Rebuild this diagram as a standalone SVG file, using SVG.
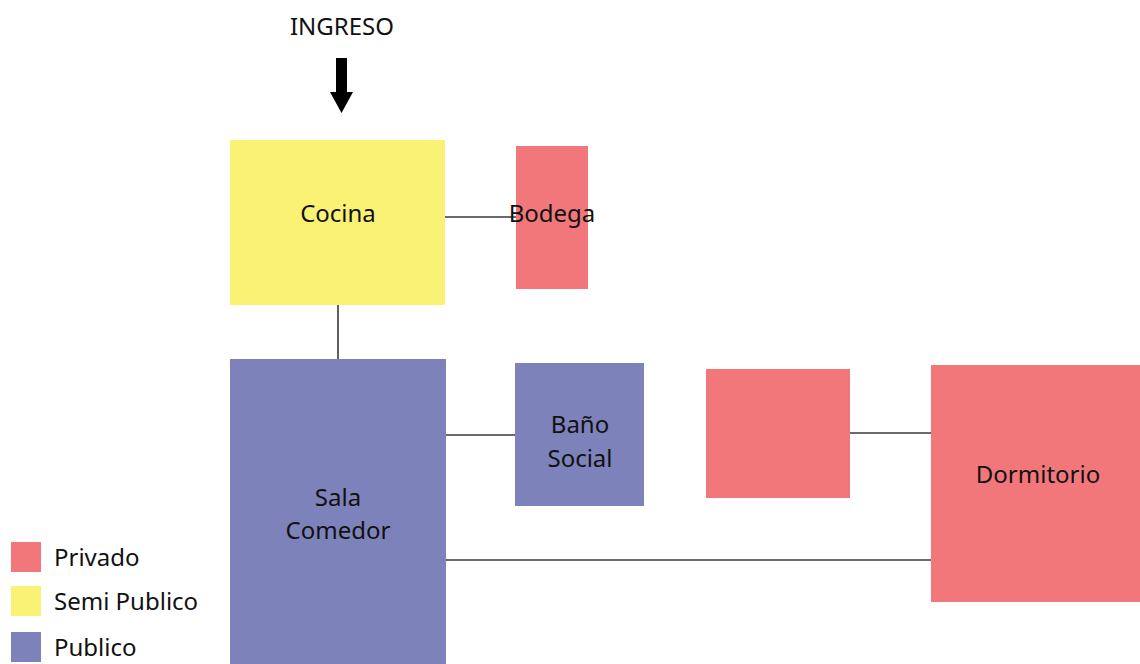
<svg xmlns="http://www.w3.org/2000/svg" width="1140" height="664" viewBox="0 0 1140 664">
<style>
text{font-family:"Noto Sans","Open Sans",sans-serif;font-size:24px;fill:#111}
.c{text-anchor:middle}
.priv{fill:#F2777A}
.semi{fill:#F9F275}
.pub{fill:#7E82BA}
.ln{stroke:#3a3a3a;stroke-width:1.6;fill:none}
</style>
<rect width="1140" height="664" fill="#fff"/>
<g id="connectors">
<line class="ln" x1="445" y1="217" x2="516" y2="217"/>
<line class="ln" x1="338" y1="305" x2="338" y2="359"/>
<line class="ln" x1="446" y1="435" x2="515" y2="435"/>
<line class="ln" x1="850" y1="433" x2="931" y2="433"/>
<line class="ln" x1="446" y1="560" x2="931" y2="560"/>
</g>
<g id="ingreso">
<text class="c" x="342" y="35">INGRESO</text>
<polygon points="336,58 347,58 347,92 353,92 341.5,113 330,92 336,92" fill="#000"/>
</g>
<g id="cocina">
<rect class="semi" x="230" y="140" width="215" height="165"/>
<text class="c" x="338" y="222">Cocina</text>
</g>
<g id="bodega">
<rect class="priv" x="516" y="146" width="72" height="143"/>
<text class="c" x="552" y="222">Bodega</text>
</g>
<g id="sala">
<rect class="pub" x="230" y="359" width="216" height="305"/>
<text class="c" x="338" y="506">Sala</text>
<text class="c" x="338" y="539">Comedor</text>
</g>
<g id="bano">
<rect class="pub" x="515" y="363" width="129" height="143"/>
<text class="c" x="580" y="433">Baño</text>
<text class="c" x="580" y="467">Social</text>
</g>
<g id="privado-vacio">
<rect class="priv" x="706" y="369" width="144" height="129"/>
</g>
<g id="dormitorio">
<rect class="priv" x="931" y="365" width="209" height="237"/>
<text class="c" x="1038" y="483">Dormitorio</text>
</g>
<g id="legend">
<rect class="priv" x="11" y="542" width="30" height="30"/>
<text x="54" y="566">Privado</text>
<rect class="semi" x="11" y="586" width="30" height="30"/>
<text x="54" y="610">Semi Publico</text>
<rect class="pub" x="11" y="632" width="30" height="30"/>
<text x="54" y="656">Publico</text>
</g>
</svg>
